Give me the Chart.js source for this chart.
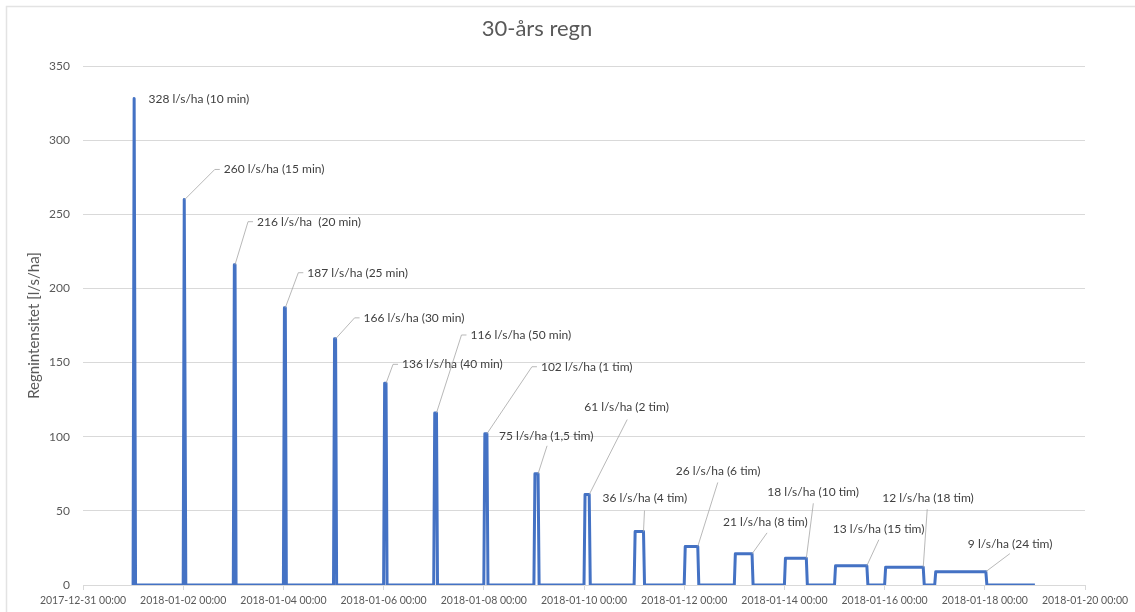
<!DOCTYPE html>
<html>
<head>
<meta charset="utf-8">
<script src="https://cdn.jsdelivr.net/npm/chart.js@4.4.1/dist/chart.umd.min.js"></script>
<style>
    html, body { margin: 0; padding: 0; background: #fff; }
    #wrap { position: relative; width: 1135px; height: 612px; }
</style>
</head>
<body>
<div id="wrap"><canvas id="rain-chart"></canvas></div>
<script>
// 30-års regn - block rain events, one per day
const chartTitle = '30-års regn';
const yTitle = 'Regnintensitet [l/s/ha]';

const eventStart = [
    '2018-01-01 00:00', '2018-01-02 00:00', '2018-01-03 00:00', '2018-01-04 00:00',
    '2018-01-05 00:00', '2018-01-06 00:00', '2018-01-07 00:00', '2018-01-08 00:00',
    '2018-01-09 00:00', '2018-01-10 00:00', '2018-01-11 00:00', '2018-01-12 00:00',
    '2018-01-13 00:00', '2018-01-14 00:00', '2018-01-15 00:00', '2018-01-16 00:00',
    '2018-01-17 00:00'
];
const intensity = [328, 260, 216, 187, 166, 136, 116, 102, 75, 61, 36, 26, 21, 18, 13, 12, 9];
const durationMin = [10, 15, 20, 25, 30, 40, 50, 60, 90, 120, 240, 360, 480, 600, 900, 1080, 1440];
const eventLabels = [
    '328 l/s/ha (10 min)', '260 l/s/ha (15 min)', '216 l/s/ha  (20 min)', '187 l/s/ha (25 min)',
    '166 l/s/ha (30 min)', '136 l/s/ha (40 min)', '116 l/s/ha (50 min)', '102 l/s/ha (1 tim)',
    '75 l/s/ha (1,5 tim)', '61 l/s/ha (2 tim)', '36 l/s/ha (4 tim)', '26 l/s/ha (6 tim)',
    '21 l/s/ha (8 tim)', '18 l/s/ha (10 tim)', '13 l/s/ha (15 tim)', '12 l/s/ha (18 tim)',
    '9 l/s/ha (24 tim)'
];
const seriesEnd = '2018-01-19 00:00';
const rampMin = 30; // time to go from 0 to full intensity in the series

const axisStart = '2017-12-31 00:00';
const axisEnd = '2018-01-20 00:00';
const yTicks = [0, 50, 100, 150, 200, 250, 300, 350];

// label placement (pixels, relative to the top-right corner of each block)
const labelOffset = [
    [14, 1], [39, -30], [22, -43], [22, -35], [28, -21], [16, -19], [34, -78], [54, -67],
    [-39, -38], [-5, -87], [-41, -33], [-22, -75], [-29, -32], [-39, -66], [-34, -37], [-41, -69],
    [-18, -28]
];
const leaderEnd = [
    null, null, null, null, null, null, null, null,
    [9, -28], [38, -75], [1, -21], [20, -64], [15, -21], [7, -55], [12, -26], [4, -58],
    [24, -18]
];

const BLUE = '#4472C4';
const GRID = '#d9d9d9';
const TEXT = '#595959';
const FONT = 'Lato, "Open Sans", sans-serif';

function toDays(s) {
    const [d, t] = s.split(' ');
    const [Y, M, D] = d.split('-').map(Number);
    const [h, m] = t.split(':').map(Number);
    return (Date.UTC(Y, M - 1, D, h, m) - Date.UTC(2017, 11, 31)) / 86400000;
}

function fmtDay(v) {
    const dt = new Date(Date.UTC(2017, 11, 31) + v * 86400000);
    const p = n => String(n).padStart(2, '0');
    return dt.getUTCFullYear() + '-' + p(dt.getUTCMonth() + 1) + '-' + p(dt.getUTCDate()) +
        ' ' + p(dt.getUTCHours()) + ':' + p(dt.getUTCMinutes());
}

// build the block series
const points = [];
eventStart.forEach((s, i) => {
    const t0 = toDays(s);
    const r = rampMin / 1440;
    const d = durationMin[i] / 1440;
    points.push({ x: t0, y: 0 });
    points.push({ x: t0 + r, y: intensity[i] });
    points.push({ x: t0 + r + d, y: intensity[i] });
    points.push({ x: t0 + 2 * r + d, y: 0 });
});
points.push({ x: toDays(seriesEnd), y: 0 });

const decorPlugin = {
    id: 'decor',
    beforeDraw(chart) {
        const ctx = chart.ctx;
        ctx.save();
        ctx.strokeStyle = '#e3e3e3';
        ctx.lineWidth = 1.5;
        ctx.beginPath();
        ctx.moveTo(6.5, 612);
        ctx.lineTo(6.5, 6.5);
        ctx.lineTo(1135, 6.5);
        ctx.stroke();
        ctx.restore();
    },
    afterDraw(chart) {
        const ctx = chart.ctx;
        const meta = chart.getDatasetMeta(0);
        ctx.save();
        ctx.fillStyle = TEXT;
        ctx.font = '22px ' + FONT;
        ctx.textAlign = 'center';
        ctx.textBaseline = 'middle';
        ctx.fillText(chartTitle, 537, 29);

        ctx.font = '12px ' + FONT;
        ctx.textAlign = 'left';
        eventLabels.forEach((txt, i) => {
            const pt = meta.data[i * 4 + 2];
            const ax = pt.x, ay = pt.y;
            const lx = ax + labelOffset[i][0];
            const ly = ay + labelOffset[i][1];
            ctx.strokeStyle = '#a6a6a6';
            ctx.lineWidth = 0.8;
            if (i > 0) {
                ctx.beginPath();
                ctx.moveTo(ax, ay);
                if (leaderEnd[i]) {
                    ctx.lineTo(ax + leaderEnd[i][0], ay + leaderEnd[i][1]);
                } else {
                    ctx.lineTo(lx - 9, ly);
                    ctx.lineTo(lx - 4, ly);
                }
                ctx.stroke();
            }
            ctx.fillStyle = '#404040';
            ctx.fillText(txt, lx, ly);
        });
        ctx.restore();
    }
};

let rainChart = null;
function createRainChart() {
    const ctx = document.getElementById('rain-chart').getContext('2d');
    rainChart = new Chart(ctx, {
        type: 'line',
        data: {
            datasets: [{
                label: chartTitle,
                data: points,
                borderColor: BLUE,
                borderWidth: 3,
                borderJoinStyle: 'round',
                pointRadius: 0,
                fill: false,
                tension: 0
            }]
        },
        options: {
            responsive: true,
            maintainAspectRatio: false,
            animation: false,
            layout: {
                padding: { left: 6, top: 66, right: 50, bottom: 0 }
            },
            plugins: {
                legend: { display: false },
                title: { display: false },
                tooltip: { enabled: false }
            },
            scales: {
                x: {
                    type: 'linear',
                    min: toDays(axisStart),
                    max: toDays(axisEnd),
                    afterFit: s => { s.height = 27; },
                    afterBuildTicks: s => {
                        const a = [];
                        for (let v = toDays(axisStart); v <= toDays(axisEnd); v += 2) a.push({ value: v });
                        s.ticks = a;
                    },
                    grid: {
                        drawOnChartArea: false,
                        drawTicks: true,
                        tickLength: 5,
                        color: GRID
                    },
                    border: { display: true, color: GRID, width: 1 },
                    ticks: {
                        autoSkip: false,
                        maxRotation: 0,
                        padding: 4,
                        color: TEXT,
                        font: { family: FONT, size: 10.5 },
                        callback: v => fmtDay(v)
                    }
                },
                y: {
                    min: yTicks[0],
                    max: yTicks[yTicks.length - 1],
                    afterFit: s => { s.width = 77; },
                    afterBuildTicks: s => { s.ticks = yTicks.map(v => ({ value: v })); },
                    grid: {
                        drawTicks: false,
                        color: ctx2 => ctx2.tick && ctx2.tick.value === 0 ? 'rgba(0,0,0,0)' : GRID
                    },
                    border: { display: false },
                    ticks: {
                        padding: 13,
                        color: TEXT,
                        font: { family: FONT, size: 12 }
                    },
                    title: {
                        display: true,
                        text: yTitle,
                        color: TEXT,
                        font: { family: FONT, size: 15 },
                        padding: { top: 19, bottom: 0 }
                    }
                }
            }
        },
        plugins: [decorPlugin]
    });
    return rainChart;
}

createRainChart();
</script>
</body>
</html>
